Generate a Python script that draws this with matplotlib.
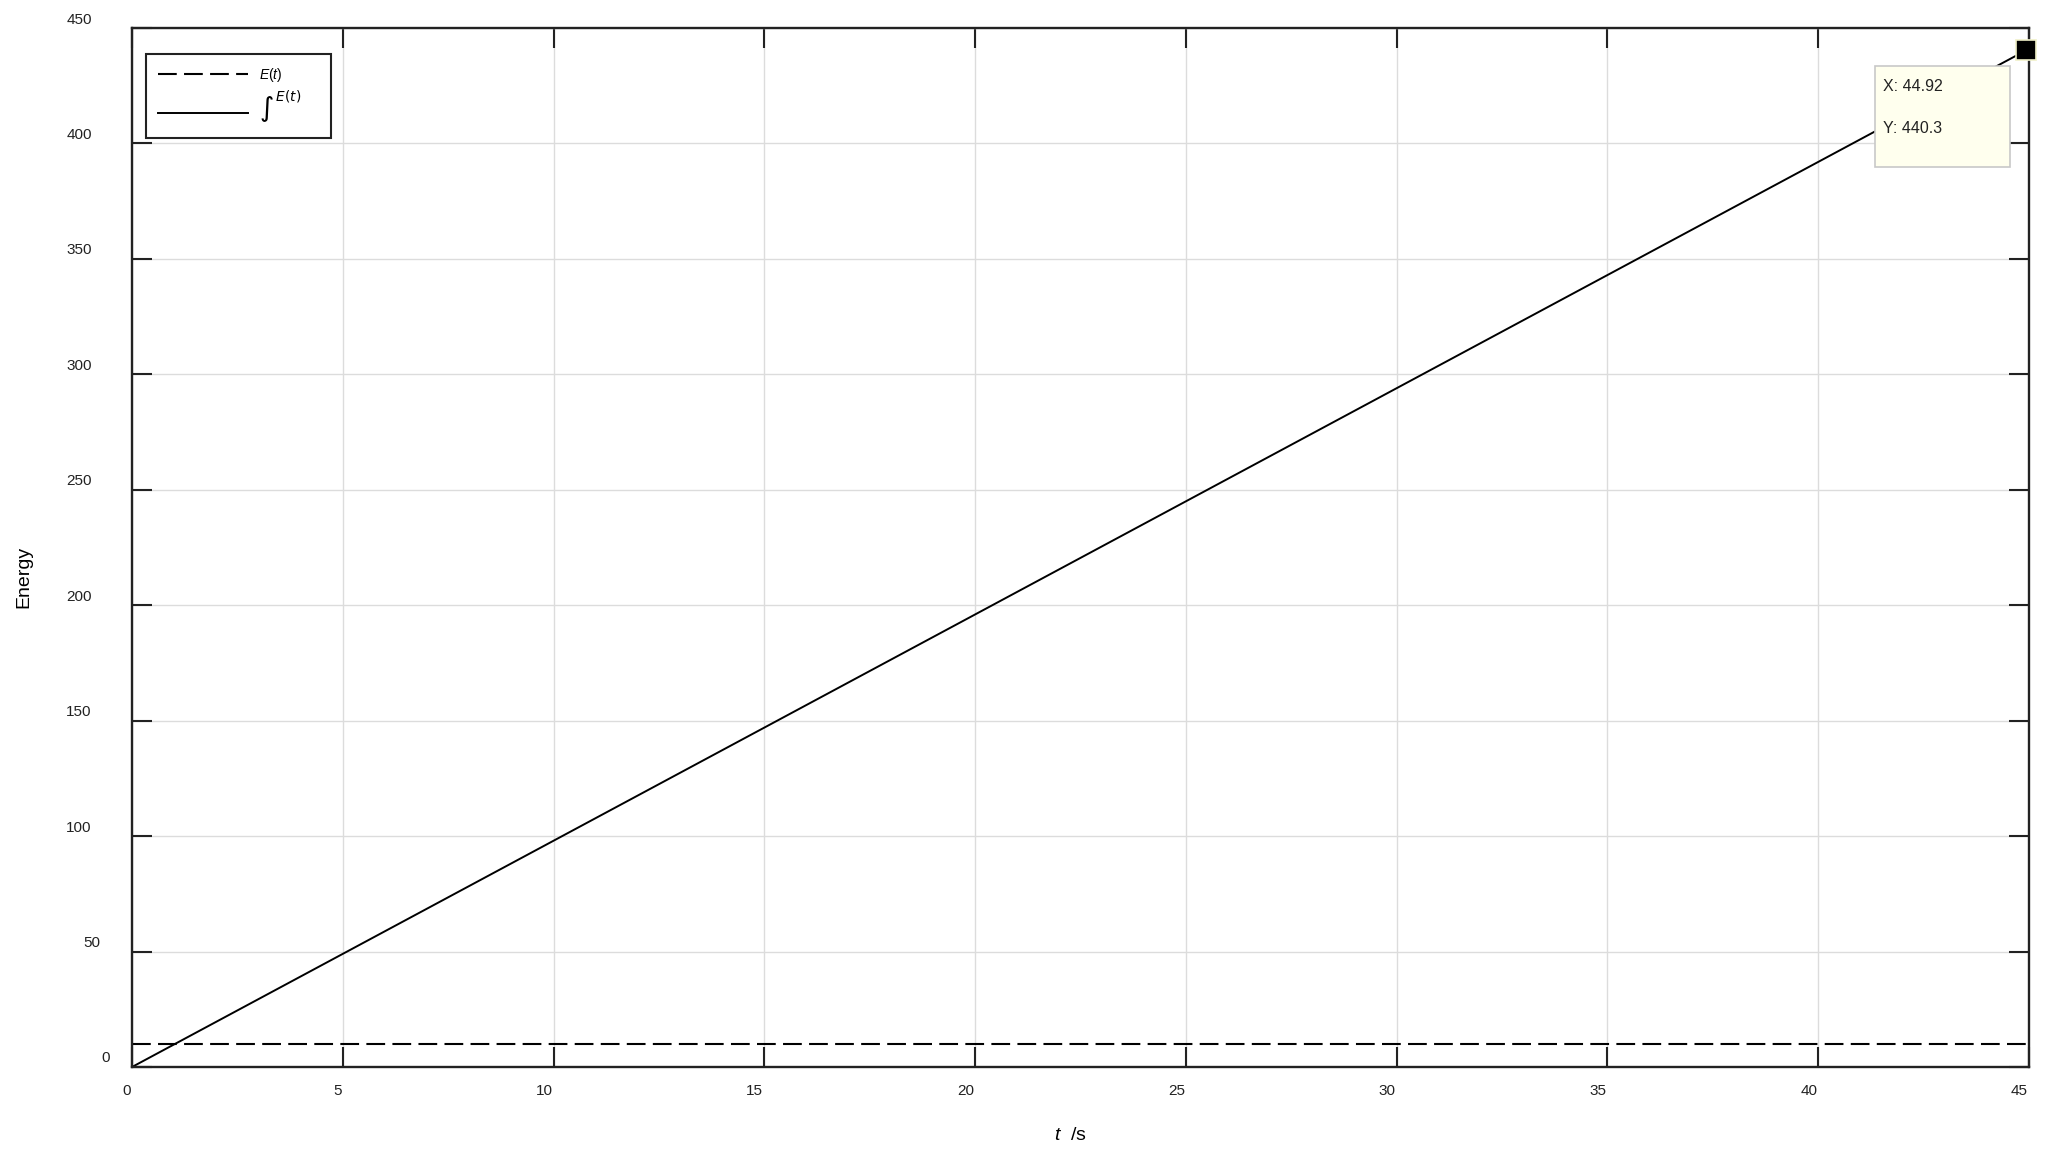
import matplotlib
matplotlib.use("Agg")
import matplotlib.pyplot as plt
from matplotlib.transforms import ScaledTranslation
from matplotlib.patches import Rectangle

# ---- data ----
t = [0, 45]
E = [9.8, 9.8]
E_int = [0, 441.0]
tip_x = 44.92
tip_y = 440.3
x_ticks = [0, 5, 10, 15, 20, 25, 30, 35, 40, 45]
y_ticks = [0, 50, 100, 150, 200, 250, 300, 350, 400, 450]

plt.rcParams['font.family'] = ['Liberation Sans', 'DejaVu Sans']
plt.rcParams['mathtext.fontset'] = 'custom'
plt.rcParams['mathtext.rm'] = 'Liberation Sans'
plt.rcParams['mathtext.it'] = 'Liberation Sans:italic'

W, H = 2046, 1160
fig = plt.figure(figsize=(W / 100, H / 100), dpi=100)
L, R, T, B = 132, 2029, 28, 1067
ax = fig.add_axes([L / W, (H - B) / H, (R - L) / W, (B - T) / H])

ax.plot(t, E, color='black', lw=1.5, dashes=(9, 3.5), label='$E(t)$')
ax.plot(t, E_int, color='black', lw=1.4, label=r'$\int^{E(t)}$')

ax.set_xlim(0, 45)
ax.set_ylim(0, 450)
ax.set_xticks(x_ticks, [str(v) for v in x_ticks])
ax.set_yticks(y_ticks, [str(v) for v in y_ticks])
ax.grid(True, color='#dcdcdc', lw=1.0)
ax.set_axisbelow(True)
for s in ax.spines.values():
    s.set_linewidth(1.7)
    s.set_color('#222222')
ax.tick_params(direction='in', length=14.4, width=1.5, color='#222222',
               top=True, right=True, labelsize=11, labelcolor='#222222')
ax.tick_params(axis='x', pad=12)
ax.tick_params(axis='y', pad=16)

for tk in ax.xaxis.get_major_ticks():
    tk.label1.set_horizontalalignment('right')
    tk.label1.set_transform(tk.label1.get_transform() +
                            ScaledTranslation(-1 / 100, 0, fig.dpi_scale_trans))
for tk, v in zip(ax.yaxis.get_major_ticks(), y_ticks):
    n = len(str(v))
    tk.label1.set_transform(tk.label1.get_transform() +
                            ScaledTranslation(-(n - 1) * 9 / 100, 10 / 100,
                                              fig.dpi_scale_trans))

ax.set_ylabel('Energy', fontsize=14, va='center')
ax.yaxis.set_label_coords(-(L - 24) / (R - L), (B - 577) / (B - T))
ax.set_xlabel('$t$  /s', fontsize=14, va='center')
ax.xaxis.set_label_coords((1070 - L) / (R - L), -(1135 - B) / (B - T))

aw, ah = R - L, B - T
leg = ax.legend(loc='upper left',
                bbox_to_anchor=(14 / aw, 1 - 27 / ah, 185 / aw, 0.001),
                mode='expand', borderaxespad=0, fontsize=10, handlelength=6.5,
                handletextpad=0.8, borderpad=0.85, labelspacing=0.4,
                fancybox=False, framealpha=1)
leg.get_frame().set_edgecolor('#222222')
leg.get_frame().set_linewidth(1.5)
txt2 = leg.get_texts()[1]
txt2.set_fontsize(14)
txt2.set_math_fontfamily('dejavusans')

# data tip
ax.plot([tip_x], [tip_y], marker='s', markersize=14.4, color='black',
        markeredgecolor='#f0f0c8', markeredgewidth=1.2, clip_on=False, zorder=5)
tr = fig.dpi_scale_trans + ScaledTranslation(tip_x, tip_y, ax.transData)
rect = Rectangle((-1.51, -1.17), 1.35, 1.01, transform=tr, facecolor='#ffffee',
                 edgecolor='#c8c8c8', lw=1.2, clip_on=False, zorder=6)
ax.add_patch(rect)
ax.annotate(f'X: {tip_x:.2f}', (tip_x, tip_y), xytext=(-143, -36),
            textcoords='offset pixels', fontsize=11.5, va='center', ha='left',
            color='#222222', zorder=7)
ax.annotate(f'Y: {tip_y:.1f}', (tip_x, tip_y), xytext=(-143, -78),
            textcoords='offset pixels', fontsize=11.5, va='center', ha='left',
            color='#222222', zorder=7)

fig.savefig('out.png', dpi=100)
